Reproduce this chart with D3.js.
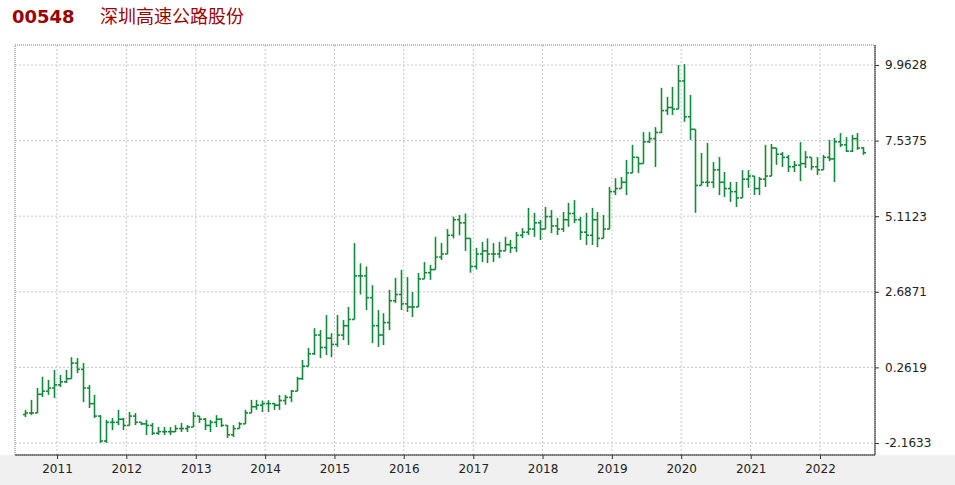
<!DOCTYPE html>
<html><head><meta charset="utf-8">
<script src="https://cdn.jsdelivr.net/npm/d3@7"></script>
<style>body{margin:0;background:#fff;font-family:"DejaVu Sans",sans-serif}</style>
</head><body><svg id="c" width="955" height="485"></svg>
<script>
const startMonth = [2010, 6]; // July 2010 (0-based month)
const closes = [-1.2,-1.2,-0.6,-0.5,-0.4,-0.3,
-0.2,-0.1,0.4,0.2,-0.4,-0.9,-1.3,-2.1,-1.5,-1.5,-1.4,-1.6,
-1.3,-1.5,-1.55,-1.6,-1.85,-1.8,-1.8,-1.8,-1.7,-1.7,-1.65,-1.3,
-1.4,-1.6,-1.5,-1.4,-1.6,-1.9,-1.7,-1.55,-1.2,-1.0,-0.95,-0.9,
-0.9,-0.95,-0.8,-0.7,-0.5,-0.1,0.3,0.7,1.3,0.9,1.2,1.0,
1.3,1.6,1.8,3.2,3.2,2.5,1.6,1.3,1.7,2.4,2.6,2.3,
2.2,2.2,3.1,3.3,3.4,3.8,3.9,4.5,5.0,4.9,4.4,3.5,
3.9,4.0,3.9,3.9,4.0,4.2,4.1,4.5,4.6,4.7,4.9,4.7,
5.1,4.8,4.7,5.0,5.2,5.0,4.6,4.5,5.0,4.4,4.7,5.9,
6.0,6.2,6.5,7.0,6.8,7.5,7.6,7.8,8.5,8.6,8.55,9.45,
8.3,7.9,6.1,6.2,6.2,6.6,6.2,6.0,5.9,5.7,6.3,6.4,
6.0,6.3,6.4,7.3,7.1,7.0,6.7,6.75,6.8,7.0,6.7,6.6,
7.0,6.95,7.5,7.4,7.2,7.6,7.3,7.15];
const opens = [-1.25,-1.2,-1.2,-0.6,-0.5,-0.4,
-0.3,-0.2,-0.1,0.4,0.2,-0.4,-0.9,-1.3,-2.1,-1.5,-1.5,-1.4,
-1.6,-1.3,-1.5,-1.55,-1.6,-1.85,-1.8,-1.8,-1.8,-1.7,-1.7,-1.65,
-1.3,-1.4,-1.6,-1.5,-1.4,-1.6,-1.9,-1.7,-1.55,-1.2,-1.0,-0.95,
-0.9,-0.9,-0.95,-0.8,-0.7,-0.5,-0.1,0.3,0.7,1.3,0.9,1.2,
1.0,1.3,1.6,1.8,3.2,3.2,2.5,1.6,1.3,1.7,2.4,2.6,
2.3,2.2,2.2,3.1,3.3,3.4,3.8,3.9,4.5,5.0,4.9,4.4,
3.5,3.9,4.0,3.9,3.9,4.0,4.2,4.1,4.5,4.6,4.7,4.9,
4.7,5.1,4.8,4.7,5.0,5.2,5.0,4.6,4.5,5.0,4.4,4.7,
5.9,6.0,6.2,6.5,7.0,6.8,7.5,7.6,7.8,8.5,8.6,8.55,
9.45,8.3,7.9,6.1,6.2,6.2,6.6,6.2,6.0,5.9,5.7,6.3,
6.4,6.0,6.3,6.4,7.3,7.1,7.0,6.7,6.75,6.8,7.0,6.7,
6.6,7.0,6.95,7.5,7.4,7.2,7.6,7.3];
const highs = [-1.10,-0.78,-0.40,-0.04,-0.14,0.18,
0.02,0.18,0.59,0.56,0.40,-0.30,-0.62,-1.27,-1.42,-1.36,-1.10,-1.36,
-1.17,-1.20,-1.49,-1.42,-1.52,-1.65,-1.65,-1.65,-1.59,-1.52,-1.59,-1.17,
-1.30,-1.36,-1.42,-1.27,-1.36,-1.59,-1.59,-1.49,-1.10,-0.78,-0.78,-0.80,
-0.79,-0.88,-0.62,-0.62,-0.46,-0.04,0.50,0.89,1.52,1.46,1.94,1.36,
1.94,1.78,2.20,4.25,3.60,3.50,2.90,2.10,2.00,2.75,3.13,3.39,
3.16,2.68,3.29,3.64,3.55,4.45,4.25,4.70,5.10,5.15,5.20,4.29,
4.10,4.29,4.40,4.25,4.29,4.45,4.35,4.61,4.73,5.38,5.22,4.99,
5.41,5.31,5.06,5.25,5.54,5.63,5.09,5.22,5.38,5.25,5.15,6.05,
6.33,6.37,6.92,7.40,7.01,7.81,7.81,7.97,9.23,8.94,9.26,9.96,
9.99,9.00,7.81,7.14,7.46,6.85,7.01,6.53,6.21,6.21,6.59,6.59,
6.27,6.37,7.40,7.43,7.30,7.17,7.08,6.88,7.49,7.20,6.98,7.01,
7.08,7.56,7.62,7.78,7.65,7.72,7.78,7.33];
const lows = [-1.33,-1.27,-0.94,-0.69,-0.62,-0.72,
-0.37,-0.24,0.08,0.08,-0.85,-1.04,-1.36,-2.16,-2.16,-1.75,-1.59,-1.75,
-1.59,-1.59,-1.59,-1.91,-1.91,-1.91,-1.91,-1.91,-1.81,-1.81,-1.81,-1.59,
-1.52,-1.75,-1.81,-1.65,-1.65,-2.00,-1.97,-1.65,-1.49,-1.10,-1.10,-1.17,
-1.17,-1.10,-1.10,-0.94,-0.85,-0.24,-0.14,0.44,0.66,0.56,0.66,0.59,
0.92,1.14,0.98,1.85,2.60,2.10,1.04,0.92,0.98,1.46,2.33,2.10,
2.04,1.88,2.20,3.13,3.07,3.48,3.71,3.90,4.40,4.50,4.00,3.30,
3.40,3.64,3.61,3.64,3.77,4.03,3.93,3.96,4.41,4.51,4.45,4.35,
4.89,4.57,4.51,4.61,4.77,4.89,4.35,4.19,4.19,4.12,4.57,4.99,
5.79,6.02,5.79,6.50,6.50,7.17,7.46,6.69,7.78,8.36,8.36,8.58,
8.14,7.56,5.22,6.11,6.05,6.02,5.79,5.73,5.57,5.41,5.70,6.02,
5.79,5.79,6.05,6.85,6.76,6.69,6.53,6.53,6.24,6.66,6.59,6.43,
6.85,6.88,6.21,7.33,7.17,7.17,7.24,7.08];
const yTicks = [-2.1633, 0.2619, 2.6871, 5.1123, 7.5375, 9.9628];
const yTickLabels = ["-2.1633","0.2619","2.6871","5.1123","7.5375","9.9628"];
const xYears = [2011,2012,2013,2014,2015,2016,2017,2018,2019,2020,2021,2022];
const titleCode = "00548";
const titleName = "深圳高速公路股份";

const svg = d3.select("#c");
const L=15,R=875,T=45,B=455;
svg.append("rect").attr("x",0).attr("y",B).attr("width",955).attr("height",30).attr("fill","#f0f0f0");
svg.append("text").attr("x",12).attr("y",23).attr("fill","#990000").attr("font-size",18).attr("font-weight","bold")
  .attr("font-family","'DejaVu Sans',sans-serif").text(titleCode);
svg.append("text").attr("x",100).attr("y",23).attr("fill","#990000").attr("font-size",18)
  .attr("font-family","'Noto Sans CJK SC',sans-serif").text(titleName);

const y = d3.scaleLinear().domain([-2.1633,9.9628]).range([443,65]);
const x = d3.scaleTime().domain([new Date(2011,0,1), new Date(2022,0,1)]).range([57,820]);

const g = svg.append("g");
g.selectAll(".hg").data(yTicks).enter().append("line")
 .attr("x1",L).attr("x2",R).attr("y1",d=>y(d)).attr("y2",d=>y(d))
 .attr("stroke","#c8c8c8").attr("stroke-dasharray","2,2");
g.selectAll(".vg").data(xYears).enter().append("line")
 .attr("x1",d=>x(new Date(d,0,1))).attr("x2",d=>x(new Date(d,0,1))).attr("y1",T).attr("y2",B)
 .attr("stroke","#c8c8c8").attr("stroke-dasharray","2,2");
g.append("rect").attr("x",L).attr("y",T).attr("width",R-L).attr("height",B-T)
 .attr("fill","none").attr("stroke","#777").attr("stroke-dasharray","1,1");
g.append("line").attr("x1",R).attr("x2",R).attr("y1",T).attr("y2",B).attr("stroke","#333");
g.append("line").attr("x1",L).attr("x2",R).attr("y1",B).attr("y2",B).attr("stroke","#333");

const ya = d3.axisRight(y).tickValues(yTicks).tickFormat((d,i)=>yTickLabels[i]).tickSize(4).tickSizeOuter(0);
const yg = svg.append("g").attr("transform",`translate(${R},0)`).call(ya);
yg.select(".domain").remove();
yg.selectAll("text").attr("font-size",12).attr("fill","#222").attr("font-family","'DejaVu Sans',sans-serif").attr("dx",3);
yg.selectAll("line").attr("stroke","#333");
const xa = d3.axisBottom(x).tickValues(xYears.map(d=>new Date(d,0,1))).tickFormat(d3.timeFormat("%Y")).tickSize(4);
const xg = svg.append("g").attr("transform",`translate(0,${B})`).call(xa);
xg.select(".domain").remove();
xg.selectAll("text").attr("font-size",12).attr("fill","#222").attr("font-family","'DejaVu Sans',sans-serif").attr("dy","0.9em");
xg.selectAll("line").attr("stroke","#333");

const data = closes.map((c,i)=>({d:new Date(startMonth[0], startMonth[1]+i, 16), o:opens[i], h:highs[i], l:lows[i], c}));
const col = "#138a3a";
const bars = svg.append("g").selectAll("g").data(data).enter().append("g")
  .attr("transform",d=>`translate(${Math.round(x(d.d))+0.5},0)`);
bars.append("line").attr("y1",d=>y(Math.max(d.h,d.o,d.c))).attr("y2",d=>y(Math.min(d.l,d.o,d.c))).attr("stroke",col).attr("stroke-width",1.6);
bars.append("line").attr("x1",-2.5).attr("x2",0).attr("y1",d=>y(d.o)).attr("y2",d=>y(d.o)).attr("stroke",col).attr("stroke-width",1.6);
bars.append("line").attr("x1",0).attr("x2",2.5).attr("y1",d=>y(d.c)).attr("y2",d=>y(d.c)).attr("stroke",col).attr("stroke-width",1.6);
</script></body></html>
